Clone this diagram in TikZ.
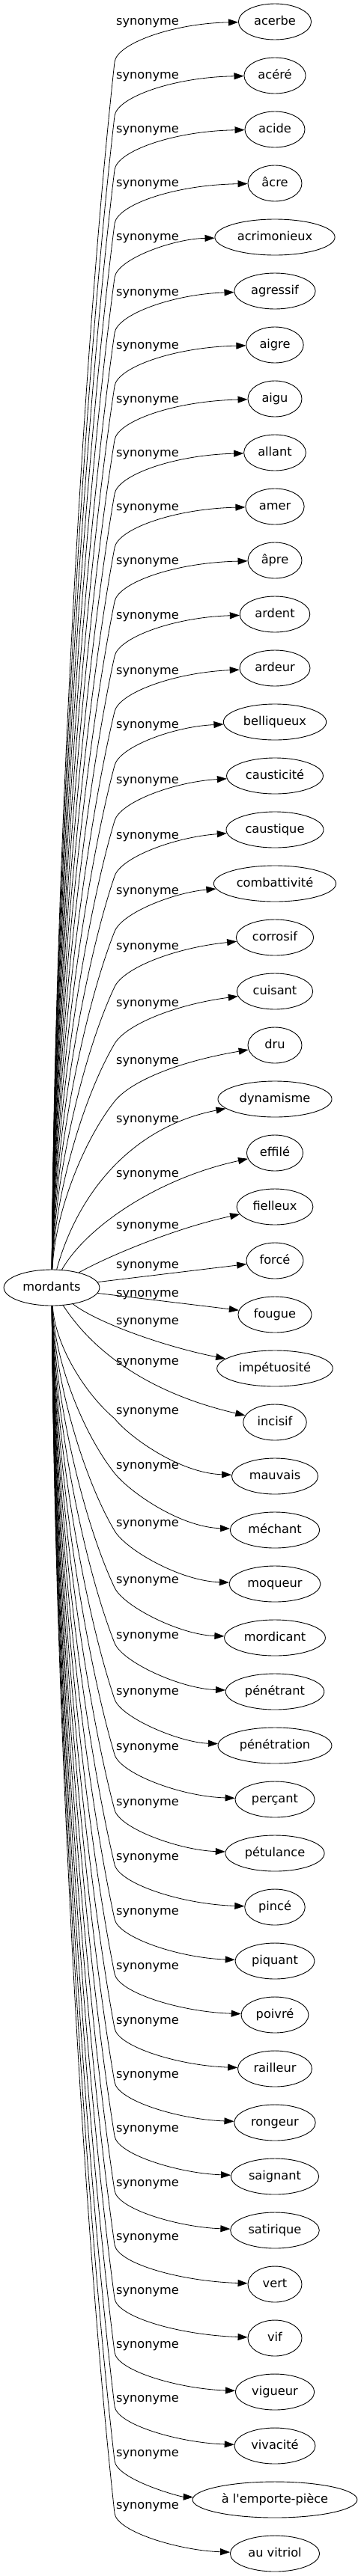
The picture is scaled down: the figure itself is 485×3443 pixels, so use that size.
\documentclass[tikz,border=0pt]{standalone}
\usepackage{fontspec}
\newfontfamily\gvfont{DejaVu Sans}[Ligatures=TeXOff]
\usetikzlibrary{arrows.meta,shapes.geometric}
\begin{document}
\begin{tikzpicture}[x=1pt,y=-1pt,
  every node/.style={font=\gvfont\fontsize{16.2pt}{19pt}\selectfont, inner sep=0pt, text height=12pt, text depth=3.5pt},
  syn/.style={ellipse, draw, line width=0.9pt, inner xsep=6.5pt, inner ysep=2pt, minimum width=72pt, minimum height=48pt},
  lab/.style={},
  edge/.style={line width=0.8pt, -{Triangle[length=13pt,width=9pt]}}
]
\useasboundingbox (0,0) rectangle (485,3443);
\node[syn] (m) at (69,1721) {mordants};
\foreach \i/\w/\L in {0/acerbe/29, 1/acéré/101, 2/acide/173, 3/âcre/245, 4/acrimonieux/317, 5/agressif/391, 6/aigre/462, 7/aigu/534, 8/allant/606, 9/amer/678, 10/âpre/750, 11/ardent/823, 12/ardeur/897, 13/belliqueux/969, 14/causticité/1043, 15/caustique/1117, 16/combattivité/1191, 17/corrosif/1265, 18/cuisant/1341, 19/dru/1418, 20/dynamisme/1496, 21/effilé/1569, 22/fielleux/1638, 23/forcé/1691, 24/fougue/1729, 25/impétuosité/1766, 26/incisif/1820, 27/mauvais/1886, 28/méchant/1959, 29/moqueur/2036, 30/mordicant/2112, 31/pénétrant/2186, 32/pénétration/2261, 33/perçant/2335, 34/pétulance/2409, 35/pincé/2482, 36/piquant/2555, 37/poivré/2628, 38/railleur/2701, 39/rongeur/2773, 40/saignant/2845, 41/satirique/2918, 42/vert/2990, 43/vif/3062, 44/vigueur/3134, 45/vivacité/3206, 46/à l'emporte-pièce/3279, 47/au vitriol/3349}{
  \pgfmathsetmacro\yt{29+72*\i}
  \node[syn] (n\i) at (367,\yt) {\w};
  \node[lab] (l\i) at (197,\L) {synonyme};
}
% upper edges
\foreach \i/\L in {0/29,1/101,2/173,3/245,4/317,5/391,6/462,7/534,8/606,9/678,10/750,11/823,12/897,13/969,14/1043,15/1117,16/1191,17/1265,18/1341,19/1418}{
  \pgfmathsetmacro\yk{\L+54}
  \pgfmathsetmacro\dst{1697-\yk}
  \pgfmathsetmacro\ya{1697-0.34*\dst}
  \pgfmathsetmacro\yb{\yk+0.23*\dst}
  \pgfmathsetmacro\xc{153+min(20,41*25/(0.23*\dst))}
  \pgfmathsetmacro\yc{\yk-25}
  \pgfmathsetmacro\yd{\L+2}
  \draw[edge] (m) .. controls (73,\ya) and (112,\yb) .. (153,\yk) .. controls (\xc,\yc) and (232,\yd) .. (n\i);
}
% lower edges
\foreach \i/\L in {27/1886,28/1959,29/2036,30/2112,31/2186,32/2261,33/2335,34/2409,35/2482,36/2555,37/2628,38/2701,39/2773,40/2845,41/2918,42/2990,43/3062,44/3134,45/3206,46/3279,47/3349}{
  \pgfmathsetmacro\yt{29+72*\i}
  \pgfmathsetmacro\yk{\L+10}
  \pgfmathsetmacro\dst{\yk-1745}
  \pgfmathsetmacro\ya{1745+0.34*\dst}
  \pgfmathsetmacro\yb{\yk-0.23*\dst}
  \pgfmathsetmacro\xc{153+min(20,41*25/(0.23*\dst))}
  \pgfmathsetmacro\yc{\yk+25}
  \pgfmathsetmacro\yd{\yt-4}
  \draw[edge] (m) .. controls (73,\ya) and (112,\yb) .. (153,\yk) .. controls (\xc,\yc) and (240,\yd) .. (n\i);
}
% near edges
\draw[edge] (m) .. controls (105,1590) and (180,1505) .. (n20);
\draw[edge] (m) .. controls (115,1640) and (210,1575) .. (n21);
\draw[edge] (m) .. controls (150,1676) and (240,1640) .. (n22);
\draw[edge] (m) -- (n23);
\draw[edge] (m) -- (n24);
\draw[edge] (m) .. controls (130,1768) and (220,1800) .. (n25);
\draw[edge] (m) .. controls (120,1800) and (190,1860) .. (n26);
\end{tikzpicture}
\end{document}
